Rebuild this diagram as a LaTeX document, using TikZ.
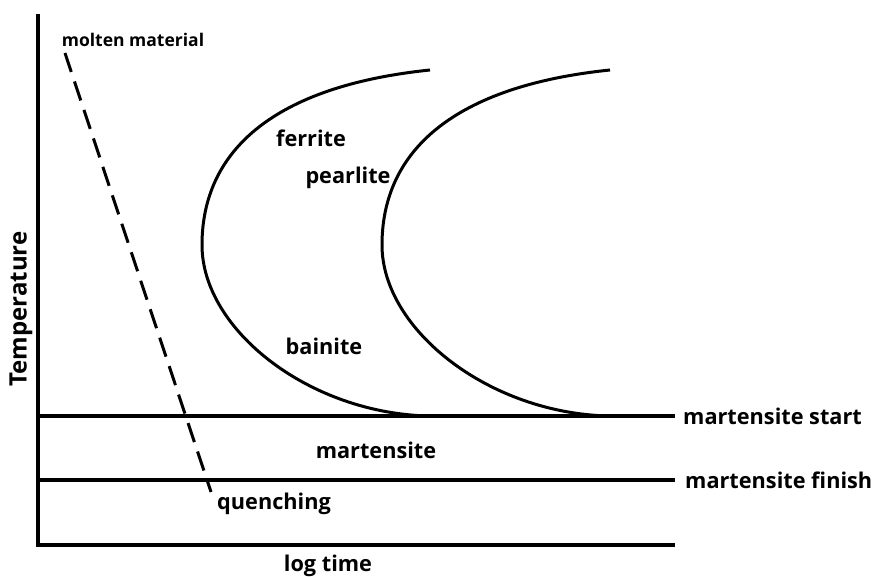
\documentclass[tikz,border=0pt]{standalone}
\usepackage{fontspec}
\setmainfont{Open Sans}
\usetikzlibrary{positioning}

\tikzstyle{lbl} = [font=\bfseries\fontsize{21.7}{24}\selectfont, inner sep=0pt]
\tikzstyle{smalllbl} = [font=\bfseries\fontsize{17.5}{20}\selectfont, inner sep=0pt]
\tikzstyle{axislbl} = [font=\bfseries\fontsize{24}{26}\selectfont, inner sep=0pt]
\tikzstyle{axisline} = [line width=3.2pt]
\tikzstyle{curve} = [line width=3pt]
\tikzstyle{quench} = [line width=3pt, dash pattern=on 20pt off 10pt]

\begin{document}
\begin{tikzpicture}[x=1pt, y=-1pt]
\useasboundingbox (0,0) rectangle (875,577);

% axes
\coordinate (origin) at (38,545);
\coordinate (ytop) at (38,14);
\coordinate (xend) at (675,545);
\draw[axisline] (ytop) -- (origin) -- (xend);

% martensite start / finish
\coordinate (msL) at (38,416);
\coordinate (msR) at (675,416);
\coordinate (mfL) at (38,480);
\coordinate (mfR) at (675,480);
\draw[axisline] (msL) -- (msR);
\draw[axisline] (mfL) -- (mfR);
\node[lbl, right=8pt of msR] (mstart) {martensite start};
\node[lbl, right=10pt of mfR] (mfinish) {martensite finish};

% transformation curves
\draw[curve] (430,70) .. controls (275,86) and (202,150) .. (202,245)
    .. controls (202,330) and (310,414) .. (430,416);
\draw[curve] (610,70) .. controls (455,86) and (382,150) .. (382,245)
    .. controls (382,330) and (490,414) .. (610,416);

% quenching line
\coordinate (qtop) at (65,53);
\coordinate (qbot) at (211,492);
\draw[quench] (qtop) -- (qbot);

% labels
\node[smalllbl] (molten) at (133,40) {molten material};
\node[lbl] (ferrite) at (311,138) {ferrite};
\node[lbl] (pearlite) at (348,178) {pearlite};
\node[lbl] (bainite) at (324,346) {bainite};
\node[lbl] (mart) at (376,450) {martensite};
\node[lbl, anchor=west] (quenching) at (217,504) {quenching};
\node[lbl] (logtime) at (328,566) {log time};
\node[axislbl, rotate=90] (temp) at (21,309) {Temperature};
\end{tikzpicture}
\end{document}
